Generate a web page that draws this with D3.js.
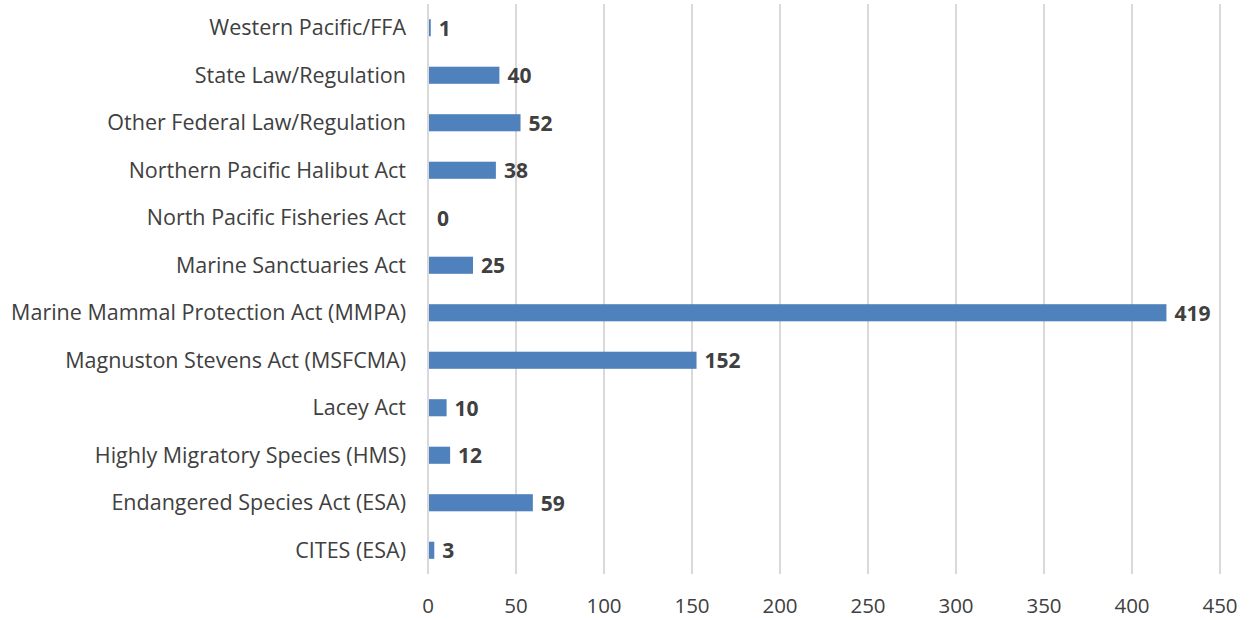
<!DOCTYPE html>
<html>
<head>
<meta charset="utf-8">
<script src="https://cdn.jsdelivr.net/npm/d3@7"></script>
<style>
  body { margin: 0; background: #fff; }
  text { font-family: "Open Sans", "Noto Sans", sans-serif; }
</style>
</head>
<body>
<script>
// categories top to bottom as shown
const categories = [
  'Western Pacific/FFA',
  'State Law/Regulation',
  'Other Federal Law/Regulation',
  'Northern Pacific Halibut Act',
  'North Pacific Fisheries Act',
  'Marine Sanctuaries Act',
  'Marine Mammal Protection Act (MMPA)',
  'Magnuston Stevens Act (MSFCMA)',
  'Lacey Act',
  'Highly Migratory Species (HMS)',
  'Endangered Species Act (ESA)',
  'CITES (ESA)'
];
const values = [1, 40, 52, 38, 0, 25, 419, 152, 10, 12, 59, 3];
const xTicks = [0, 50, 100, 150, 200, 250, 300, 350, 400, 450];

const width = 1249, height = 620;
const margin = { top: 4, right: 29, bottom: 46, left: 428 };

const svg = d3.select('body').append('svg')
  .attr('width', width)
  .attr('height', height);

const x = d3.scaleLinear().domain([0, 450]).range([margin.left, width - margin.right]);
const y = d3.scaleBand().domain(categories)
  .range([margin.top, height - margin.bottom])
  .paddingInner(0.64).paddingOuter(0.32);

// vertical gridlines
svg.append('g')
  .selectAll('line')
  .data(xTicks)
  .enter()
  .append('line')
  .attr('x1', d => x(d))
  .attr('x2', d => x(d))
  .attr('y1', margin.top)
  .attr('y2', height - margin.bottom)
  .style('stroke', '#d9d9d9')
  .style('stroke-width', '2px');

// bars
svg.append('g')
  .selectAll('rect')
  .data(values)
  .enter()
  .append('rect')
  .attr('x', x(0) + 1)
  .attr('y', (d, i) => y(categories[i]))
  .attr('width', d => Math.max(0, x(d) - x(0)))
  .attr('height', y.bandwidth())
  .style('fill', '#4f81bd');

// data labels
svg.append('g')
  .selectAll('text')
  .data(values)
  .enter()
  .append('text')
  .attr('x', d => x(d) + 9)
  .attr('y', (d, i) => y(categories[i]) + y.bandwidth() / 2)
  .attr('dy', '0.38em')
  .style('font-size', '21px')
  .style('font-weight', 'bold')
  .style('fill', '#404040')
  .text(d => d);

// category labels
svg.append('g')
  .selectAll('text')
  .data(categories)
  .enter()
  .append('text')
  .attr('x', margin.left - 22)
  .attr('y', d => y(d) + y.bandwidth() / 2)
  .attr('dy', '0.35em')
  .attr('text-anchor', 'end')
  .style('font-size', '21.5px')
  .style('fill', '#404040')
  .text(d => d);

// x tick labels
svg.append('g')
  .selectAll('text')
  .data(xTicks)
  .enter()
  .append('text')
  .attr('x', d => x(d))
  .attr('y', 606)
  .attr('dy', '0.35em')
  .attr('text-anchor', 'middle')
  .style('font-size', '20.5px')
  .style('fill', '#404040')
  .text(d => d);
</script>
</body>
</html>
